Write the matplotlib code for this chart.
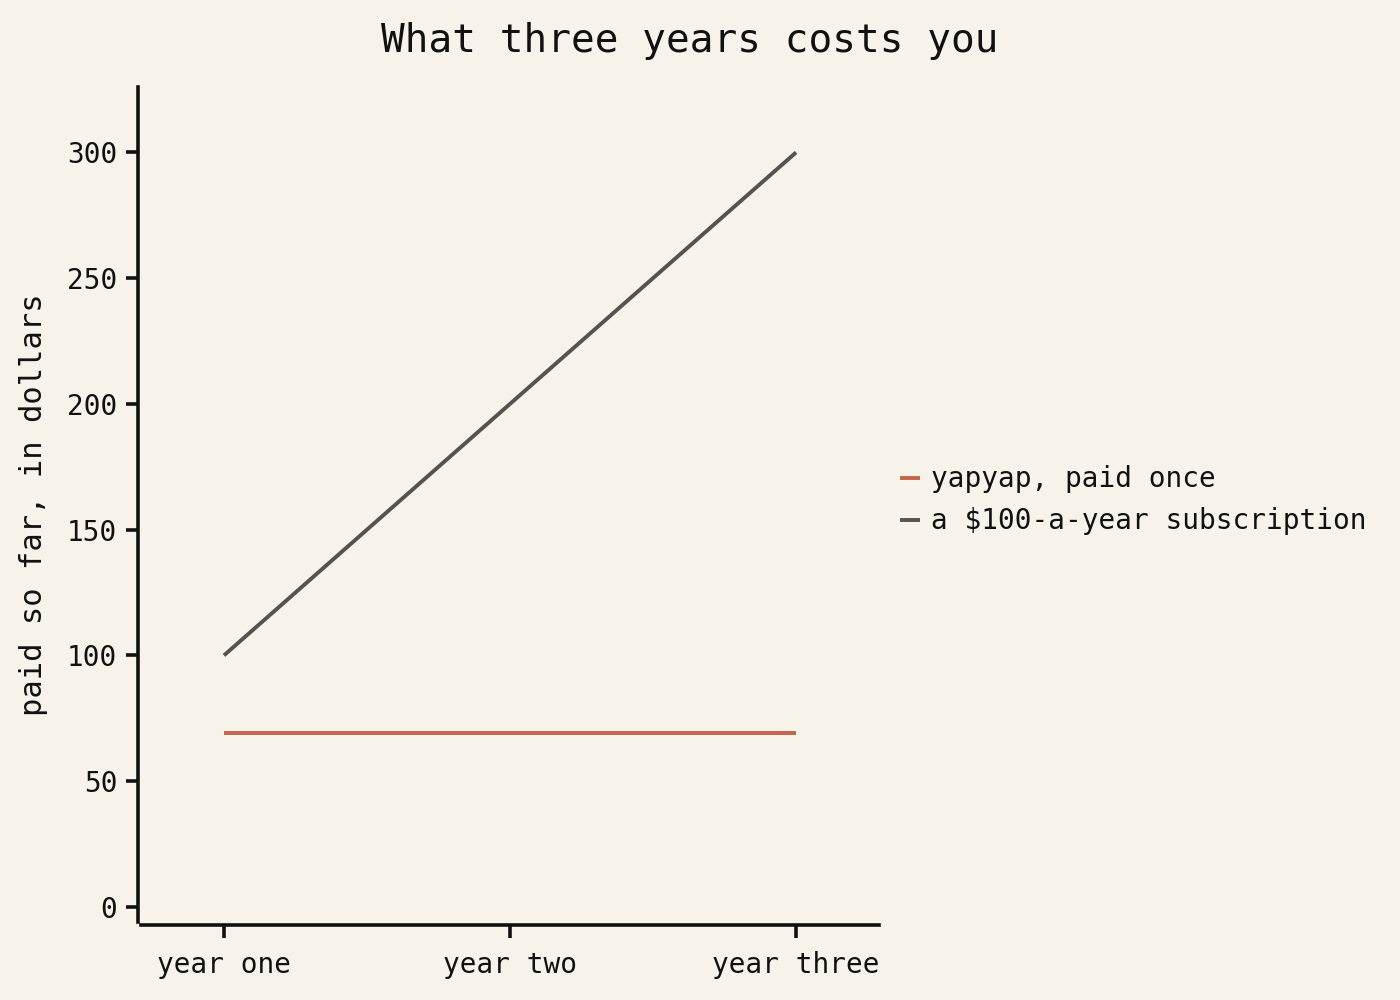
import matplotlib
matplotlib.use("Agg")
import matplotlib.pyplot as plt

years = ["year one", "year two", "year three"]
yapyap = [69, 69, 69]
subscription = [100, 200, 300]
series_labels = ["yapyap, paid once", "a $100-a-year subscription"]
yticks = [0, 50, 100, 150, 200, 250, 300]

BG = "#F7F3EB"
plt.rcParams["font.family"] = ["DejaVu Sans Mono"]

fig = plt.figure(figsize=(7, 5), dpi=200, facecolor=BG)
ax = fig.add_axes([141 / 1400, 1 - 922 / 1000, (879 - 141) / 1400, (922 - 87) / 1000])
ax.set_facecolor(BG)

x = list(range(len(years)))
ax.plot(x, yapyap, color="#C4644A", lw=1.4, solid_capstyle="butt", label=series_labels[0])
ax.plot(x, subscription, color="#555350", lw=1.4, solid_capstyle="butt", label=series_labels[1])

ax.set_xlim(-0.29, 2.29)
ax.set_ylim(-6, 326)
ax.set_xticks(x)
ax.set_xticklabels(years, fontsize=10)
ax.set_yticks(yticks)
ax.set_yticklabels([str(v) for v in yticks], fontsize=10)

for s in ["top", "right"]:
    ax.spines[s].set_visible(False)
for s in ["left", "bottom"]:
    ax.spines[s].set_linewidth(1.3)
    ax.spines[s].set_color("#111111")
ax.spines["left"].set_position(("outward", 1))
ax.spines["bottom"].set_position(("outward", 1))
ax.tick_params(axis="both", length=4.5, width=1.3, color="#111111", labelcolor="#111111")
ax.tick_params(axis="y", pad=3)
ax.tick_params(axis="x", pad=5)

ax.set_ylabel("paid so far, in dollars", fontsize=11, color="#111111", labelpad=7)
fig.suptitle("What three years costs you", fontsize=14.2, color="#111111", x=0.4925, y=0.978)

leg = ax.legend(loc="center left", bbox_to_anchor=(0.995, 0.505), frameon=False,
                fontsize=10, handlelength=0.7, handletextpad=0.4)
for t in leg.get_texts():
    t.set_color("#111111")

fig.savefig("out.png", dpi=200, facecolor=BG)
